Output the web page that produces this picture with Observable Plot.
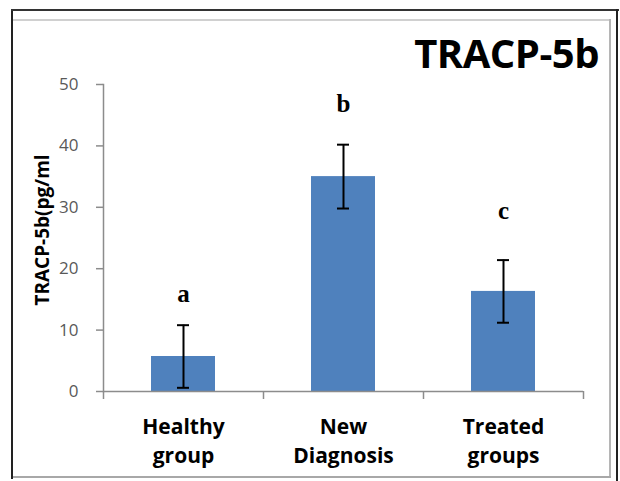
<!DOCTYPE html>
<html>
<head>
<meta charset="utf-8">
<script src="https://cdn.jsdelivr.net/npm/d3@7"></script>
<script src="https://cdn.jsdelivr.net/npm/@observablehq/plot@0.6"></script>
<style>
  html, body { margin: 0; padding: 0; background: #fff; }
  #wrap { position: relative; width: 620px; height: 481px; overflow: hidden; font-family: "Open Sans", sans-serif; }
  #wrap svg { position: absolute; left: 0; top: 0; }
  .b-left { position: absolute; left: 11px; top: 9px; width: 2px; height: 470px; background: #222; }
  .b-top { position: absolute; left: 11px; top: 9px; width: 608px; height: 2px; background: #333; }
  .b-right { position: absolute; left: 616px; top: 9px; width: 2px; height: 472px; background: #222; }
  .g-top { position: absolute; left: 13px; top: 19px; width: 597px; height: 2px; background: #d0d0d0; }
  .g-right { position: absolute; left: 609px; top: 19px; width: 2px; height: 459px; background: #b5b5b5; }
  .g-bottom { position: absolute; left: 13px; top: 476px; width: 598px; height: 2px; background: #a8a8a8; }
  #title { position: absolute; right: 21px; top: 29px; font: bold 40px "Open Sans", sans-serif; color: #000; letter-spacing: -0.5px; line-height: 1.2; }
</style>
</head>
<body>
<div id="wrap">
  <div class="b-left"></div><div class="b-top"></div><div class="b-right"></div>
  <div class="g-top"></div><div class="g-right"></div><div class="g-bottom"></div>
  <div id="title">TRACP-5b</div>
</div>
<script>
const categories = ["Healthy group", "New Diagnosis", "Treated groups"];
const tickLabels = ["Healthy\ngroup", "New\nDiagnosis", "Treated\ngroups"];
const means = [5.7, 35.0, 16.3];
const errors = [5.1, 5.2, 5.1];
const letters = ["a", "b", "c"];
const letterY = [15.8, 46.8, 29.4];
const yTicks = [0, 10, 20, 30, 40, 50];
const yLabel = "TRACP-5b(pg/ml";

const data = categories.map((c, i) => ({
  cat: c, mean: means[i], lo: means[i] - errors[i], hi: means[i] + errors[i],
  letter: letters[i], ly: letterY[i]
}));

const W = 620, H = 481, mL = 103, mR = 37;
const step = (W - mL - mR) / categories.length;
const axisGray = "#8c8c8c";

const chart = Plot.plot({
  width: W,
  height: H,
  marginLeft: mL,
  marginRight: mR,
  marginTop: 84,
  marginBottom: 90,
  style: {background: "transparent", overflow: "visible"},
  x: {domain: categories, paddingInner: 0.6, paddingOuter: 0.3},
  y: {domain: [0, 50]},
  marks: [
    Plot.barY(data, {x: "cat", y: "mean", fill: "#4F81BD"}),
    Plot.ruleY([0], {stroke: axisGray, strokeWidth: 1.5}),
    // category boundary ticks on the x axis
    Plot.ruleX(categories, {x: d => d, y1: 0, y2: -1.3, dx: -step / 2, stroke: axisGray, strokeWidth: 1.5}),
    Plot.ruleX(categories.slice(-1), {x: d => d, y1: 0, y2: -1.3, dx: step / 2, stroke: axisGray, strokeWidth: 1.5}),
    // error bars
    Plot.ruleX(data, {x: "cat", y1: "lo", y2: "hi", stroke: "#000", strokeWidth: 2}),
    Plot.tickY(data, {x: "cat", y: "hi", stroke: "#000", strokeWidth: 2, insetLeft: 26, insetRight: 26}),
    Plot.tickY(data, {x: "cat", y: "lo", stroke: "#000", strokeWidth: 2, insetLeft: 26, insetRight: 26}),
    Plot.text(data, {x: "cat", y: "ly", text: "letter", fontFamily: "Liberation Serif", fontWeight: "bold", fontSize: 25, fill: "#000"}),
    Plot.frame({anchor: "left", stroke: axisGray, strokeWidth: 1.5}),
    Plot.axisY({
      ticks: yTicks, tickSize: 7, tickPadding: 18, stroke: axisGray, strokeWidth: 1.5,
      fontSize: 17, fill: "#595959", fontFamily: "Open Sans",
      label: null
    }),
    Plot.axisX({
      tickSize: 0, tickPadding: 21,
      tickFormat: d => tickLabels[categories.indexOf(d)],
      fontSize: 21, fontWeight: "bold", fill: "#000", fontFamily: "Open Sans",
      lineHeight: 1.42, label: null
    }),
    Plot.text([yLabel], {
      frameAnchor: "left", textAnchor: "middle", dx: -61, dy: -8, rotate: -90, text: d => d,
      fontSize: 19, fontWeight: "bold", fill: "#000", fontFamily: "Open Sans"
    })
  ]
});

document.getElementById("wrap").appendChild(chart);
</script>
</body>
</html>
